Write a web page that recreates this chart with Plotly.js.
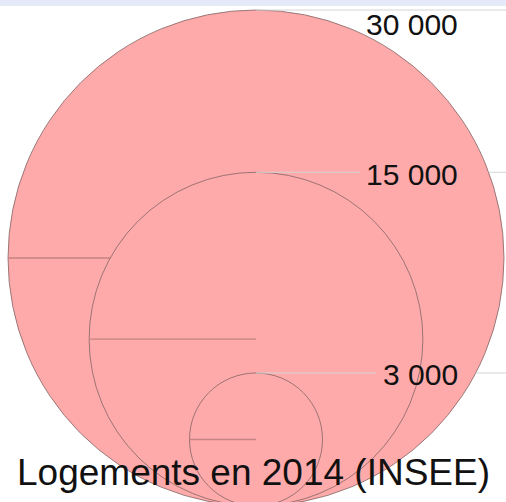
<!DOCTYPE html>
<html>
<head>
<meta charset="utf-8">
<script src="https://cdn.plot.ly/plotly-3.0.1.min.js"></script>
<style>html,body{margin:0;padding:0;background:#fff;}#chart{width:506px;height:502px;}</style>
</head>
<body>
<div id="chart"></div>
<script>
// Data
var values = [30000, 15000, 3000];
var labels = ['30 000', '15 000', '3 000'];
var title = 'Logements en 2014 (INSEE)';

// Layout constants (pixel-like data space)
var W = 506, H = 502;
var cx = 256, baseY = 506, rMax = 248;
var flannery = 0.5716;
var fill = '#FFAAAA', outline = '#806464', radiusLine = '#c48282', tickLine = '#d4d4d4';
var labelRight = 460, labelSize = 30;

var vmax = Math.max.apply(null, values);
var radii = values.map(function (v) { return rMax * Math.pow(v / vmax, flannery); });

var shapes = [];
// top toolbar band
shapes.push({type: 'rect', xref: 'paper', yref: 'paper', x0: 0, x1: 1, y0: 1 - 6 / H, y1: 1,
  fillcolor: '#e4eaf7', line: {width: 0}, layer: 'below'});

radii.forEach(function (r) {
  var cy = baseY - r;
  shapes.push({type: 'circle', xref: 'x', yref: 'y', x0: cx - r, x1: cx + r, y0: cy - r, y1: cy + r,
    fillcolor: fill, line: {color: outline, width: 0.8}});
  shapes.push({type: 'line', xref: 'x', yref: 'y', x0: cx - r, x1: cx, y0: cy, y1: cy,
    line: {color: radiusLine, width: 1.3}});
});

var annotations = [];
var R0 = radii[0], cy0 = baseY - R0;
radii.forEach(function (r, i) {
  var top = baseY - 2 * r;
  var textW = labels[i].length * labelSize * 0.52;
  if (i === 0) {
    shapes.push({type: 'line', xref: 'x', yref: 'y', x0: cx, x1: W, y0: top, y1: top,
      line: {color: tickLine, width: 1}});
    annotations.push({x: labelRight, y: top + 14, xref: 'x', yref: 'y', text: labels[i],
      showarrow: false, xanchor: 'right', yanchor: 'middle',
      font: {family: 'Liberation Sans, Arial, sans-serif', size: labelSize, color: '#111'}});
  } else {
    var edge = cx + Math.sqrt(R0 * R0 - (top - cy0) * (top - cy0));
    shapes.push({type: 'line', xref: 'x', yref: 'y', x0: cx, x1: labelRight - textW - 6, y0: top, y1: top,
      line: {color: tickLine, width: 1}});
    shapes.push({type: 'line', xref: 'x', yref: 'y', x0: edge, x1: W, y0: top, y1: top,
      line: {color: tickLine, width: 1}});
    annotations.push({x: labelRight, y: top + 2, xref: 'x', yref: 'y', text: labels[i],
      showarrow: false, xanchor: 'right', yanchor: 'middle',
      font: {family: 'Liberation Sans, Arial, sans-serif', size: labelSize, color: '#111'}});
  }
});

annotations.push({x: 0.5, y: 472, xref: 'paper', yref: 'y', text: title, showarrow: false,
  xanchor: 'center', yanchor: 'middle',
  font: {family: 'Liberation Sans, Arial, sans-serif', size: 37, color: '#111'}});

var layout = {
  width: W, height: H,
  margin: {l: 0, r: 0, t: 0, b: 0, pad: 0},
  paper_bgcolor: '#fff', plot_bgcolor: '#fff',
  xaxis: {range: [0, W], visible: false, fixedrange: true},
  yaxis: {range: [H, 0], visible: false, fixedrange: true},
  shapes: shapes,
  annotations: annotations,
  showlegend: false
};

Plotly.newPlot('chart', [{x: [], y: [], type: 'scatter', mode: 'markers'}], layout,
  {displayModeBar: false, staticPlot: true});
</script>
</body>
</html>
